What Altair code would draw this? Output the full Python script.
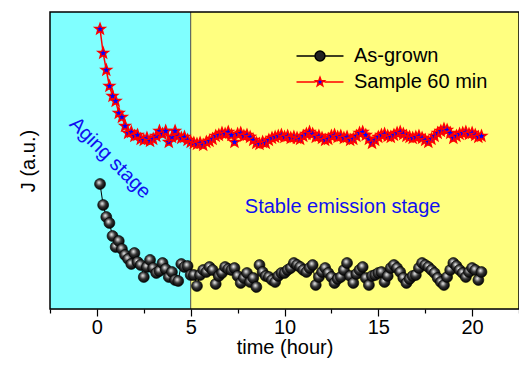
import math
import altair as alt
import pandas as pd

# ---------------- data ----------------
minutes = [10, 20, 30, 40, 50, 60, 70, 80, 90, 100,
           110, 120, 130, 140, 150, 160, 170, 180, 190, 200,
           210, 220, 230, 240, 250, 260, 270, 280, 290, 300,
           310, 320, 330, 340, 350, 360, 370, 380, 390, 400,
           410, 420, 430, 440, 450, 460, 470, 480, 490, 500,
           510, 520, 530, 540, 550, 560, 570, 580, 590, 600,
           610, 620, 630, 640, 650, 660, 670, 680, 690, 700,
           710, 720, 730, 740, 750, 760, 770, 780, 790, 800,
           810, 820, 830, 840, 850, 860, 870, 880, 890, 900,
           910, 920, 930, 940, 950, 960, 970, 980, 990, 1000,
           1010, 1020, 1030, 1040, 1050, 1060, 1070, 1080, 1090, 1100,
           1110, 1120, 1130, 1140, 1150, 1160, 1170, 1180, 1190, 1200,
           1210, 1220, 1230]

as_grown = [129, 108, 96, 90, 77, 66, 72, 64, 58, 54,
            49, 60, 51, 48, 36, 46, 53, 45, 40, 42,
            50, 44, 36, 41, 33, 32, 49, 46, 47, 38,
            38, 27, 38, 43, 41, 46, 43, 29, 37, 40,
            46, 44, 43, 45, 37, 30, 35, 40, 31, 35,
            26, 48, 41, 37, 36, 33, 31, 37, 40, 40,
            43, 45, 50, 48, 46, 43, 41, 45, 48, 28,
            36, 41, 45, 40, 36, 30, 34, 36, 43, 50,
            37, 30, 39, 43, 46, 35, 28, 37, 38, 40,
            41, 31, 37, 45, 48, 45, 41, 35, 30, 34,
            37, 38, 45, 50, 48, 46, 43, 40, 35, 31,
            28, 36, 43, 50, 47, 43, 40, 36, 41, 45,
            43, 33, 41]

sample_60 = [284, 260, 243, 227, 217, 212, 200, 196, 187, 180,
             181, 177, 178, 174, 173, 175, 172, 174, 177, 182,
             179, 182, 171, 176, 182, 177, 175, 176, 173, 171,
             170, 169, 170, 168, 171, 172, 174, 177, 178, 180,
             179, 181, 178, 171, 179, 180, 177, 178, 176, 173,
             170, 169, 171, 170, 173, 175, 176, 177, 178, 176,
             177, 175, 176, 175, 174, 177, 179, 181, 179, 176,
             177, 175, 173, 174, 177, 178, 176, 177, 175, 176,
             173, 174, 177, 180, 181, 178, 174, 170, 173, 176,
             178, 179, 177, 176, 178, 180, 181, 179, 177, 176,
             175, 176, 177, 175, 173, 171, 174, 177, 180, 182,
             184, 183, 180, 175, 177, 179, 180, 181, 179, 180,
             178, 176, 177]

series_names = ["As-grown", "Sample 60 min"]
stage_names = ["Aging stage", "Stable emission stage"]
stage_start = [-2.5, 5.0]
stage_end = [5.0, 22.5]
label_t = [0.70, 13.1]
label_J = [155, 106]
x_ticks = [-2.5, 0, 2.5, 5, 7.5, 10, 12.5, 15, 17.5, 20, 22.5]
x_domain = [-2.5, 22.5]
y_domain = [4, 301]

# ---------------- build ----------------
hours = [m / 60 for m in minutes]
df_ball = pd.DataFrame({"t": hours, "J": as_grown})
df_star = pd.DataFrame({"t": hours, "J": sample_60})

FONT = "Liberation Sans"
W, H = 469, 297

xs = alt.Scale(domain=x_domain, nice=False, zero=False)
ys = alt.Scale(domain=y_domain, nice=False, zero=False)

xaxis = alt.Axis(
    values=x_ticks, title="time (hour)",
    labelExpr="datum.value % 5 === 0 ? datum.label : ''",
    tickSize={"condition": {"test": "datum.value % 5 === 0", "value": 7}, "value": 4},
    domain=False, grid=False, labelOverlap=False, labelFlush=False,
    labelFontSize=20, titleFontSize=20, labelFont=FONT, titleFont=FONT,
    labelColor="black", titleColor="black", tickColor="black", tickWidth=1.2,
    labelPadding=1, titlePadding=0, titleFontWeight="normal",
)
yaxis = alt.Axis(
    title="J (a.u.)", labels=False, ticks=False, domain=False, grid=False,
    titleFontSize=20, titleFont=FONT, titleFontWeight="normal",
    titleColor="black", titlePadding=12,
)


def star_path(R, r):
    pts = []
    for i in range(10):
        ang = -math.pi / 2 + i * math.pi / 5
        rad = R if i % 2 == 0 else r
        pts.append(f"{rad * math.cos(ang):.3f},{rad * math.sin(ang):.3f}")
    return "M" + "L".join(pts) + "Z"


STAR = star_path(1.0, 0.42)

df_stage = pd.DataFrame({"stage": stage_names, "start": stage_start, "end": stage_end})

bg_aging = alt.Chart(df_stage).transform_filter(
    alt.datum.stage == stage_names[0]
).mark_rect(color="#80FFFF").encode(
    x=alt.X("start:Q", scale=xs, axis=xaxis), x2="end:Q"
)
bg_stable = alt.Chart(df_stage).transform_filter(
    alt.datum.stage == stage_names[1]
).mark_rect(color="#FFFF80").encode(
    x=alt.X("start:Q", scale=xs), x2="end:Q"
)
divider = alt.Chart(df_stage).transform_filter(
    alt.datum.stage == stage_names[0]
).mark_rule(color="#4a4a4a", strokeWidth=1).encode(x=alt.X("end:Q", scale=xs))

ball_grad = {
    "gradient": "radial",
    "stops": [
        {"offset": 0, "color": "#ffffff"},
        {"offset": 0.18, "color": "#b0b0b0"},
        {"offset": 0.5, "color": "#333333"},
        {"offset": 1, "color": "#000000"},
    ],
    "x1": 0.4, "y1": 0.36, "r1": 0,
    "x2": 0.45, "y2": 0.42, "r2": 0.6,
}

ball_line = alt.Chart(df_ball).mark_line(color="black", strokeWidth=1).encode(
    x=alt.X("t:Q", scale=xs), y=alt.Y("J:Q", scale=ys, axis=yaxis)
)
ball_pts = alt.Chart(df_ball).mark_point(
    shape="circle", filled=True, fill=ball_grad, stroke="#000000",
    strokeWidth=0.6, size=120, opacity=1
).encode(x=alt.X("t:Q", scale=xs), y=alt.Y("J:Q", scale=ys))

star_line = alt.Chart(df_star).mark_line(color="red", strokeWidth=1.5).encode(
    x=alt.X("t:Q", scale=xs), y=alt.Y("J:Q", scale=ys)
)
star_pts = alt.Chart(df_star).mark_point(
    shape=STAR, filled=True, fill="blue", stroke="red",
    strokeWidth=1.5, size=118, opacity=1
).encode(x=alt.X("t:Q", scale=xs), y=alt.Y("J:Q", scale=ys))

# annotations
df_txt = pd.DataFrame({"t": label_t, "J": label_J, "txt": stage_names})
txt_aging = alt.Chart(df_txt).transform_filter(
    alt.datum.txt == stage_names[0]
).mark_text(font=FONT, fontSize=20, color="#1010F0", angle=45).encode(
    x=alt.X("t:Q", scale=xs), y=alt.Y("J:Q", scale=ys), text="txt:N"
)
txt_stable = alt.Chart(df_txt).transform_filter(
    alt.datum.txt == stage_names[1]
).mark_text(font=FONT, fontSize=20, color="#1010F0").encode(
    x=alt.X("t:Q", scale=xs), y=alt.Y("J:Q", scale=ys), text="txt:N"
)

# frame
frame = alt.Chart(pd.DataFrame({"a": [x_domain[0]], "b": [x_domain[1]]})).mark_rect(
    fillOpacity=0, stroke="black", strokeWidth=1.5
).encode(x=alt.X("a:Q", scale=xs), x2="b:Q")

# legend symbols (custom paths in unit space, lines extend beyond the unit box)
L = 4.27
star_sym = f"M{-L},0L-0.8,0M0.8,0L{L},0" + star_path(0.85, 0.36)
ball_sym = (f"M{-L},0L-0.9,0M0.9,0L{L},0"
            "M-0.9,0A0.9,0.9 0 1,0 0.9,0A0.9,0.9 0 1,0 -0.9,0Z")

legend = alt.Legend(
    title=None, orient="none", legendX=260, legendY=34,
    labelFontSize=20, labelFont=FONT, labelColor="black",
    labelOffset=24, symbolStrokeWidth=1.5, rowPadding=6, padding=0,
    symbolSize=121,
)
df_leg = pd.DataFrame({"series": series_names, "t": [-10, -10], "J": [10, 10]})
leg = alt.Chart(df_leg).mark_point(clip=True, filled=True, opacity=1, size=121).encode(
    x=alt.X("t:Q", scale=xs), y=alt.Y("J:Q", scale=ys),
    shape=alt.Shape("series:N", scale=alt.Scale(domain=series_names, range=[ball_sym, star_sym]), legend=legend),
    fill=alt.Fill("series:N", scale=alt.Scale(domain=series_names, range=["#222222", "blue"]), legend=legend),
    stroke=alt.Stroke("series:N", scale=alt.Scale(domain=series_names, range=["black", "red"]), legend=legend),
)

chart = alt.layer(
    bg_aging, bg_stable, divider, txt_aging, txt_stable,
    ball_line, ball_pts, star_line, star_pts, leg, frame
).properties(
    width=W, height=H,
    autosize=alt.AutoSizeParams(type="none"),
    padding={"left": 42, "top": 4, "right": 0, "bottom": 50},
).configure_view(stroke=None).configure(background="white")

chart.save("out.html", embed_options={"renderer": "svg", "actions": False})
